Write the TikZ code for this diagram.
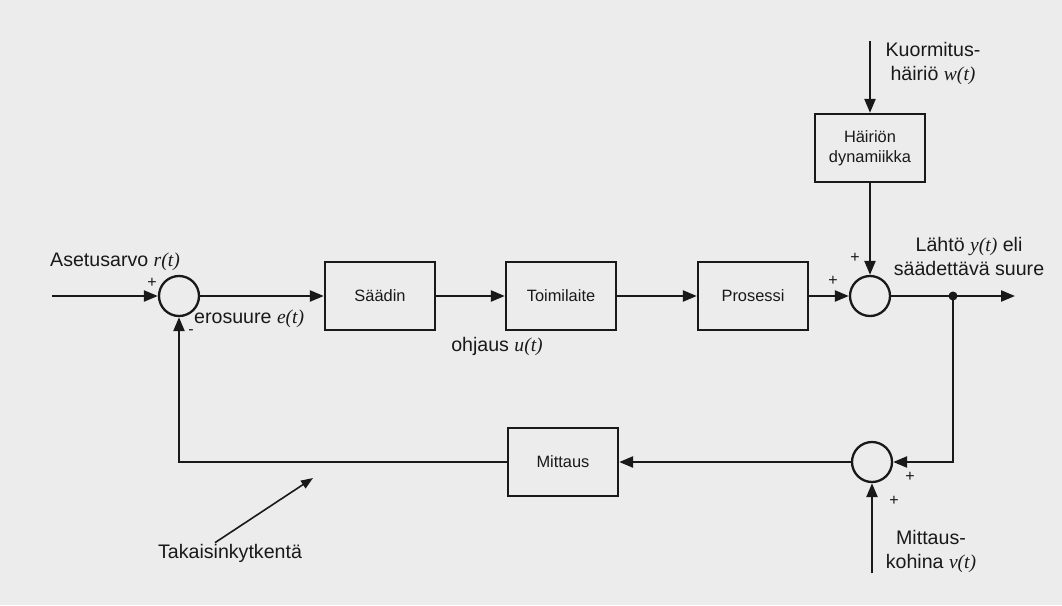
\documentclass[tikz,border=0pt]{standalone}
\usepackage{fontspec}
\setmainfont{Liberation Sans}
\newfontfamily\varfont{Liberation Serif}
\usepackage{tikz}
\usepackage{xcolor}
\usetikzlibrary{positioning, arrows.meta}
\definecolor{pagegray}{RGB}{236, 236, 236}
\definecolor{inkblack}{RGB}{25, 25, 25}
\newcommand{\sig}[1]{{\varfont\itshape #1}}
\tikzset{
    blockbox/.style={draw=inkblack, line width=2.3pt, minimum width=110pt, minimum height=68pt, inner sep=2pt, text=inkblack, font=\fontsize{16.4}{20}\selectfont},
    sumnode/.style={circle, draw=inkblack, line width=2.3pt, minimum size=40pt, inner sep=0pt},
    signal/.style={draw=inkblack, line width=2.3pt, -{Triangle[length=14pt, width=11pt]}},
    lbl/.style={text=inkblack, inner sep=1pt, font=\fontsize{19.6}{24}\selectfont},
    sgn/.style={text=inkblack, inner sep=0pt, font=\fontsize{16}{16}\selectfont}
}

\begin{document}
\begin{tikzpicture}[x=1pt, y=-1pt]
    \fill[pagegray] (0,0) rectangle (1062,605);
    \useasboundingbox (0,0) rectangle (1062,605);

    \node[sumnode] (sumr) at (179,296) {};
    \node[blockbox] (saadin) at (380,296) {Säädin};
    \node[blockbox] (toimi) at (561,296) {Toimilaite};
    \node[blockbox] (prosessi) at (753,296) {Prosessi};
    \node[sumnode] (sumy) at (870,296) {};
    \node[blockbox, align=center] (hairio) at (870,148) {Häiriön\\dynamiikka};
    \node[sumnode] (summ) at (872,462) {};
    \node[blockbox] (mittaus) at (563,462) {Mittaus};

    \coordinate (rin) at (52,296);
    \coordinate (yout) at (1015,296);
    \coordinate (haara) at (953,296);
    \coordinate (win) at (870,41);
    \coordinate (vin) at (872,573);
    \coordinate (takakarki) at (313,478);

    \node[lbl] (asetus) at (115,262) {Asetusarvo \sig{r(t)}};
    \node[lbl, anchor=west] (ero) at (193,319) {erosuure \sig{e(t)}};
    \node[lbl] (ohjaus) at (497,346) {ohjaus \sig{u(t)}};
    \node[lbl, align=center] (lahto) at (969,256) {Lähtö \sig{y(t)} eli\\säädettävä suure};
    \node[lbl, align=center] (kuorm) at (933,63) {Kuormitus-\\häiriö \sig{w(t)}};
    \node[lbl, align=center] (kohina) at (931,551) {Mittaus-\\kohina \sig{v(t)}};
    \node[lbl] (taka) at (230,553) {Takaisinkytkentä};

    \node[sgn] (plusr) at (152,283) {+};
    \node[sgn] (miinusr) at (191,332) {-};
    \node[sgn] (plusp) at (833,281) {+};
    \node[sgn] (plush) at (855,258) {+};
    \node[sgn] (plusm) at (910,477) {+};
    \node[sgn] (plusv) at (894,501) {+};

    \draw[signal] (rin) -- (sumr);
    \draw[signal] (sumr) -- (saadin);
    \draw[signal] (saadin) -- (toimi);
    \draw[signal] (toimi) -- (prosessi);
    \draw[signal] (prosessi) -- (sumy);
    \draw[signal] (sumy) -- (yout);
    \draw[signal] (win) -- (hairio);
    \draw[signal] (hairio) -- (sumy);
    \draw[signal] (haara) |- (summ);
    \draw[signal] (vin) -- (summ);
    \draw[signal] (summ) -- (mittaus);
    \draw[signal] (mittaus) -| (sumr);
    \fill[inkblack] (haara) circle (4.5pt);
    \draw[draw=inkblack, line width=1.6pt, -{Triangle[length=12pt, width=9pt]}] ([xshift=-15pt]taka.north) -- (takakarki);
\end{tikzpicture}
\end{document}
